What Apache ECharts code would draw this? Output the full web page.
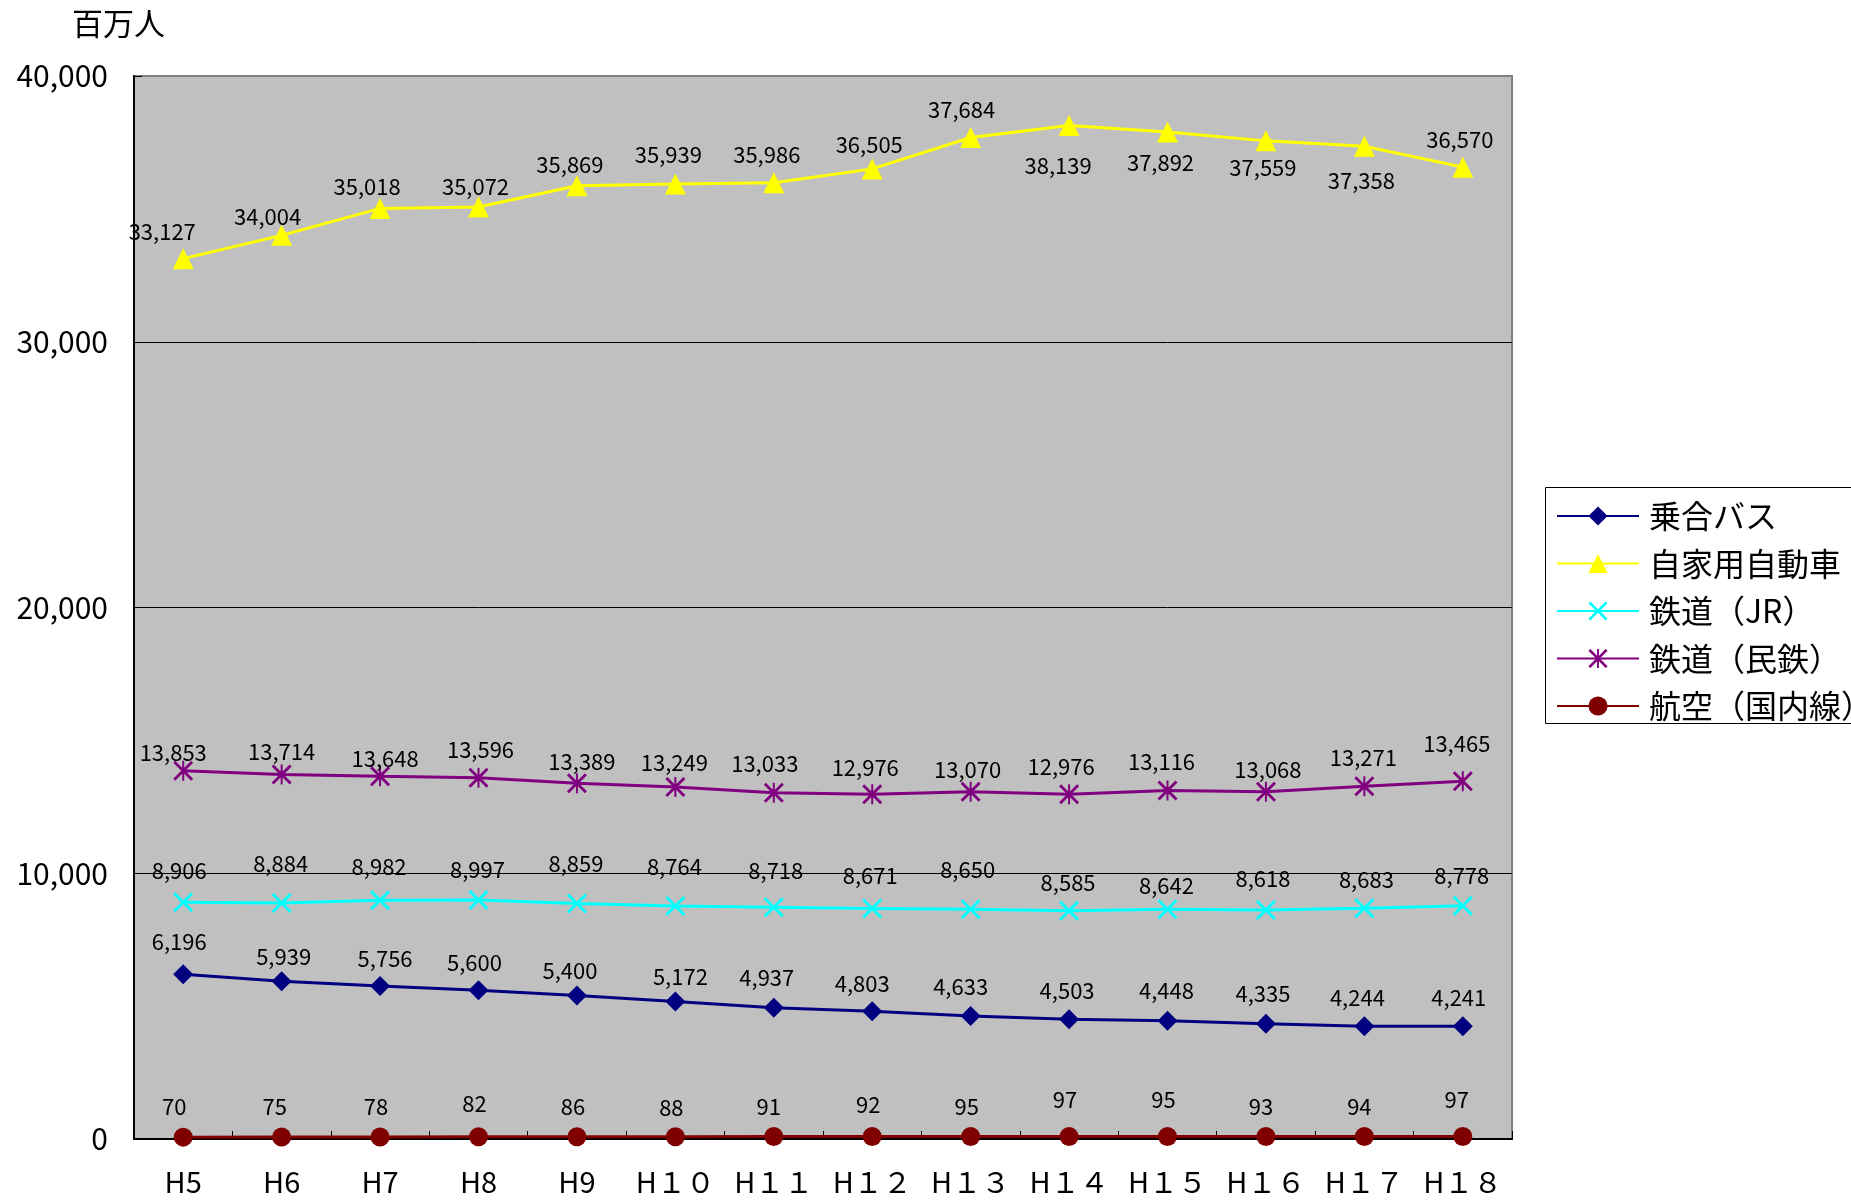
<!DOCTYPE html>
<html>
<head>
<meta charset="utf-8">
<script src="https://cdn.jsdelivr.net/npm/echarts@6/dist/echarts.min.js"></script>
<style>
  html, body { margin: 0; padding: 0; background: #fff; }
  #chart { width: 1851px; height: 1203px; }
</style>
</head>
<body>
<div id="chart"></div>
<script>
// 年度
const years = ['H5', 'H6', 'H7', 'H8', 'H9', 'H１０', 'H１１', 'H１２', 'H１３', 'H１４', 'H１５', 'H１６', 'H１７', 'H１８'];

// 輸送人員（百万人）
const busValues = [6196, 5939, 5756, 5600, 5400, 5172, 4937, 4803, 4633, 4503, 4448, 4335, 4244, 4241];
const carValues = [33127, 34004, 35018, 35072, 35869, 35939, 35986, 36505, 37684, 38139, 37892, 37559, 37358, 36570];
const jrValues = [8906, 8884, 8982, 8997, 8859, 8764, 8718, 8671, 8650, 8585, 8642, 8618, 8683, 8778];
const privateRailValues = [13853, 13714, 13648, 13596, 13389, 13249, 13033, 12976, 13070, 12976, 13116, 13068, 13271, 13465];
const airValues = [70, 75, 78, 82, 86, 88, 91, 92, 95, 97, 95, 93, 94, 97];

// y軸目盛
const yTicks = [0, 10000, 20000, 30000, 40000];

// 数値ラベルの位置ずらし（マーカー中心からの px）
const busLabelShift = [[-4,-33],[2,-25],[5,-27],[-4,-28],[-7,-25],[5,-25],[-7,-30],[-10,-28],[-10,-29],[-2,-29],[-1,-30],[-3,-30],[-7,-29],[-4,-29]];
const carLabelShift = [[-21,-27],[-14,-19],[-13,-22],[-3,-20],[-7,-21],[-7,-29],[-7,-28],[-3,-24],[-9,-28],[-11,40],[-7,31],[-3,27],[-3,34],[-3,-28]];
const jrLabelShift = [[-4,-32],[-1,-39],[-1,-34],[-1,-30],[-1,-40],[-1,-39],[2,-37],[-2,-33],[-3,-39],[-1,-28],[-1,-24],[-3,-31],[2,-29],[-1,-30]];
const privateLabelShift = [[-10,-18],[0,-23],[5,-18],[2,-28],[5,-22],[-1,-24],[-9,-29],[-7,-27],[-3,-22],[-8,-28],[-6,-29],[2,-22],[-1,-29],[-6,-38]];
const airLabelShift = [[-9,-30],[-7,-30],[-4,-30],[-4,-33],[-4,-30],[-4,-29],[-5,-30],[-4,-32],[-4,-30],[-4,-37],[-4,-37],[-5,-30],[-5,-30],[-6,-37]];

const JP = '"Noto Sans CJK JP", "Noto Sans", sans-serif';

// × と ＊ のマーカー形状
const crossPath = 'path://M10,0L100,90L90,100L0,10Z M90,0L100,10L10,100L0,90Z';
const starPath = 'path://M10,0L100,90L90,100L0,10Z M90,0L100,10L10,100L0,90Z M45,0L55,0L55,100L45,100Z';

const fmt = v => Number(v).toLocaleString('en-US');

function makeSeries(name, values, shifts, color, symbol, size) {
  return {
    name: name,
    type: 'line',
    data: values.map((v, i) => ({ value: v, label: { offset: shifts[i] } })),
    symbol: symbol,
    symbolSize: size,
    showAllSymbol: true,
    lineStyle: { color: color, width: 3 },
    itemStyle: { color: color },
    label: {
      show: true,
      position: 'inside',
      color: '#000',
      fontSize: 22,
      fontFamily: JP,
      formatter: p => fmt(p.value)
    },
    emphasis: { disabled: true },
    animation: false
  };
}

const chart = echarts.init(document.getElementById('chart'), null, { renderer: 'canvas' });

chart.setOption({
  animation: false,
  backgroundColor: '#ffffff',
  title: {
    text: '百万人',
    left: 67,
    top: 3,
    textStyle: { fontFamily: JP, fontSize: 31, fontWeight: 'normal', color: '#000' }
  },
  grid: {
    left: 134, top: 76, right: 339, bottom: 64,
    show: true,
    backgroundColor: '#c0c0c0',
    borderColor: '#808080',
    borderWidth: 2
  },
  graphic: [{
    type: 'rect',
    left: 1545, top: 487,
    shape: { width: 330, height: 236 },
    style: { fill: '#ffffff', stroke: '#000000', lineWidth: 1 },
    z: 0
  }],
  legend: {
    orient: 'vertical',
    left: 1556,
    top: 500,
    padding: 0,
    itemWidth: 82,
    itemHeight: 24,
    itemGap: 15.5,
    data: ['乗合バス', '自家用自動車', '鉄道（JR）', '鉄道（民鉄）', '航空（国内線）'],
    textStyle: { fontFamily: JP, fontSize: 32, lineHeight: 32, color: '#000', padding: [0, 0, 0, 5] },
    selectedMode: false,
    z: 5
  },
  xAxis: {
    type: 'category',
    data: years,
    boundaryGap: true,
    axisLine: { show: true, lineStyle: { color: '#000', width: 2 } },
    axisTick: { show: true, inside: true, length: 8, interval: 0, lineStyle: { color: '#000', width: 1 } },
    axisLabel: { interval: 0, fontFamily: JP, fontSize: 29, color: '#000', margin: 28 },
    splitLine: { show: false }
  },
  yAxis: {
    type: 'value',
    min: yTicks[0],
    max: yTicks[yTicks.length - 1],
    interval: yTicks[1] - yTicks[0],
    axisLine: { show: true, lineStyle: { color: '#000', width: 2 } },
    axisTick: { show: true, inside: true, length: 8, lineStyle: { color: '#000', width: 1 } },
    axisLabel: { fontFamily: JP, fontSize: 30, color: '#000', margin: 26, formatter: v => fmt(v) },
    splitLine: { show: true, lineStyle: { color: ['#000', '#000', '#000', '#000', '#808080'], width: 1 } }
  },
  series: [
    makeSeries('乗合バス', busValues, busLabelShift, '#000080', 'diamond', 20),
    makeSeries('自家用自動車', carValues, carLabelShift, '#ffff00', 'triangle', 21),
    makeSeries('鉄道（JR）', jrValues, jrLabelShift, '#00ffff', crossPath, 20),
    makeSeries('鉄道（民鉄）', privateRailValues, privateLabelShift, '#800080', starPath, 20),
    makeSeries('航空（国内線）', airValues, airLabelShift, '#800000', 'circle', 19)
  ]
});
</script>
</body>
</html>
